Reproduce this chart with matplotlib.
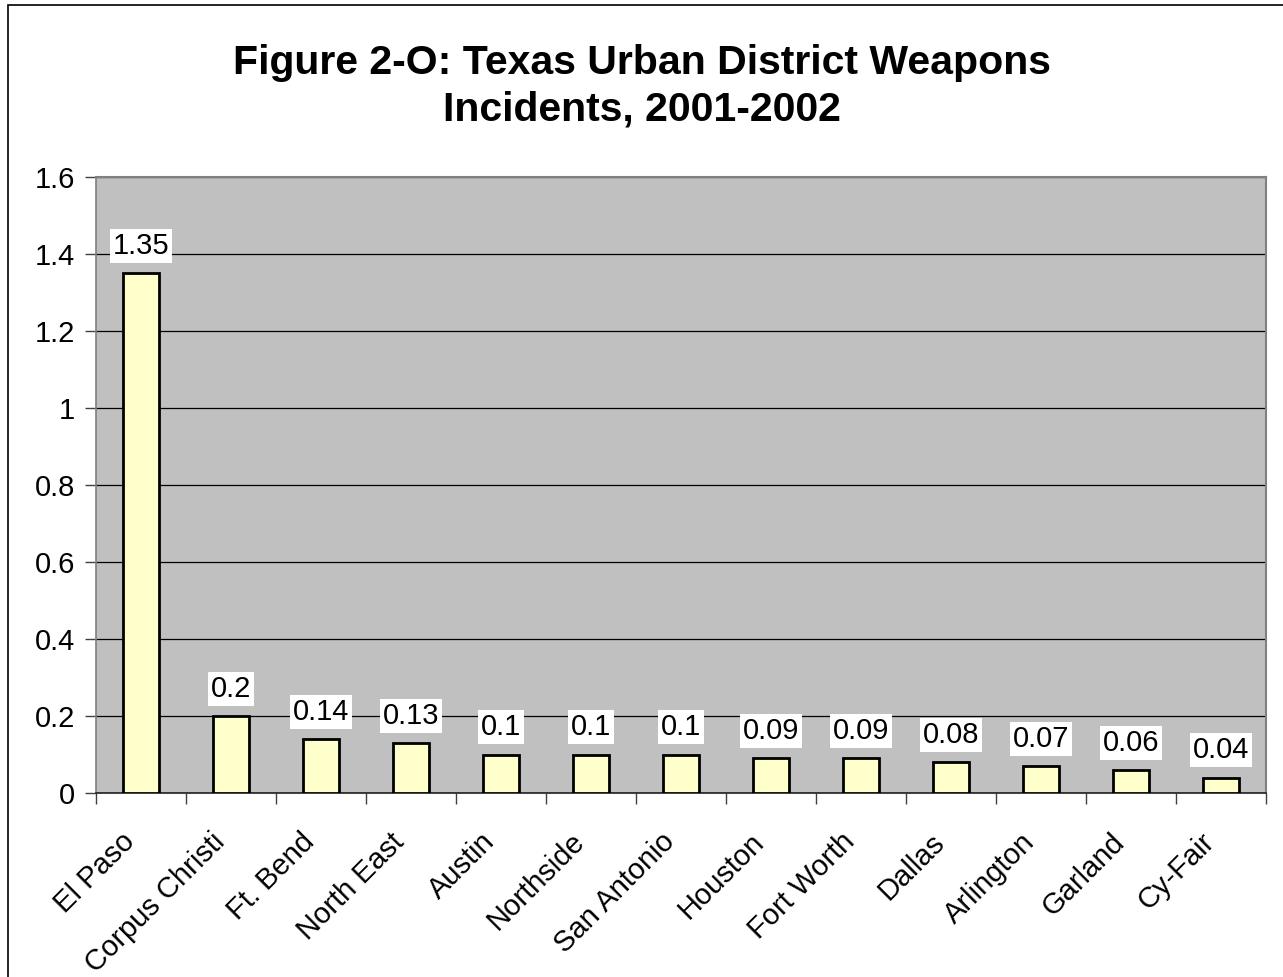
import matplotlib.pyplot as plt
from matplotlib.patches import Rectangle
from matplotlib.transforms import ScaledTranslation

districts = ["El Paso", "Corpus Christi", "Ft. Bend", "North East", "Austin",
             "Northside", "San Antonio", "Houston", "Fort Worth", "Dallas",
             "Arlington", "Garland", "Cy-Fair"]
incidents = [1.35, 0.2, 0.14, 0.13, 0.1, 0.1, 0.1, 0.09, 0.09, 0.08, 0.07, 0.06, 0.04]
value_labels = ["1.35", "0.2", "0.14", "0.13", "0.1", "0.1", "0.1", "0.09", "0.09",
                "0.08", "0.07", "0.06", "0.04"]
y_ticks = [0, 0.2, 0.4, 0.6, 0.8, 1.0, 1.2, 1.4, 1.6]
y_tick_labels = ["0", "0.2", "0.4", "0.6", "0.8", "1", "1.2", "1.4", "1.6"]

plt.rcParams['font.family'] = ['Liberation Sans', 'DejaVu Sans']

W, H = 1283, 977
fig = plt.figure(figsize=(W / 100, H / 100), dpi=100)

# chart frame
fig.patches.append(Rectangle((8 / W, -0.1), 1.2, 1 - 5 / H + 0.1, transform=fig.transFigure,
                             fill=False, edgecolor='black', linewidth=1.2))

left, right, top, bottom = 96, 1266, 177, 793
ax = fig.add_axes([left / W, 1 - bottom / H, (right - left) / W, (bottom - top) / H])
ax.set_facecolor('#C0C0C0')

x = list(range(len(districts)))
ax.bar(x, incidents, width=0.41, color='#FFFFCC', edgecolor='black', linewidth=2, zorder=3)

ax.set_xlim(-0.5, len(districts) - 0.5)
ax.set_ylim(0, 1.6)
ax.set_yticks(y_ticks)
ax.set_yticklabels(y_tick_labels, fontsize=21)
ax.yaxis.grid(True, color='black', linewidth=0.9)
ax.set_axisbelow(True)

ax.set_xticks(x)
ax.set_xticklabels(districts, rotation=45, ha='right', va='top', rotation_mode='anchor',
                   fontsize=21)
ax.tick_params(axis='x', length=0, pad=0)
shift = ScaledTranslation(-15 / 72, -25 / 72, fig.dpi_scale_trans)
for lbl in ax.get_xticklabels():
    lbl.set_transform(lbl.get_transform() + shift)
ax.set_xticks([i - 0.5 for i in range(len(districts) + 1)], minor=True)
ax.tick_params(axis='x', which='minor', length=8, width=1, color='#404040')
ax.tick_params(axis='y', length=8, width=1, color='#404040', pad=7)

for s in ['top', 'right']:
    ax.spines[s].set_color('#808080')
    ax.spines[s].set_linewidth(1.5)
ax.spines['left'].set_color('#808080')
ax.spines['left'].set_linewidth(1.2)
ax.spines['bottom'].set_color('#202020')
ax.spines['bottom'].set_linewidth(1.2)

for xi, v, lab in zip(x, incidents, value_labels):
    ax.annotate(lab, (xi, v), xytext=(0, 9.5), textcoords='offset points',
                ha='center', va='bottom', fontsize=21, zorder=4,
                bbox=dict(boxstyle='square,pad=0.1', facecolor='white', edgecolor='none'))

fig.text(0.5, 1 - 86 / H, "Figure 2-O: Texas Urban District Weapons\nIncidents, 2001-2002",
         ha='center', va='center', fontsize=29.5, fontweight='bold', linespacing=1.28)

fig.savefig('out.png', dpi=100)
